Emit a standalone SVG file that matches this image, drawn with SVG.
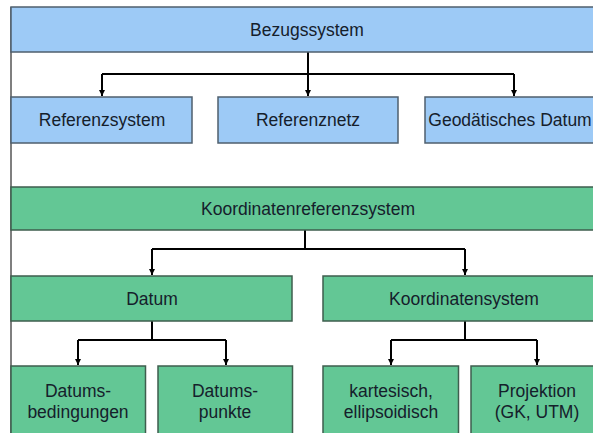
<svg xmlns="http://www.w3.org/2000/svg" width="593" height="433" viewBox="0 0 593 433">
<defs>
<style>
.blue{fill:#9dcaf6;stroke:#4f5f6e;stroke-width:1.5}
.green{fill:#63c795;stroke:#3e5e4e;stroke-width:1.5}
.t{font-family:"Liberation Sans",Arial,sans-serif;font-size:17.5px;text-anchor:middle;fill:#15202b}
.c{fill:none;stroke:#000;stroke-width:2}
</style>
<marker id="ah" viewBox="0 0 10 10" refX="10" refY="5" markerWidth="3.2" markerHeight="3.2" orient="auto">
<path d="M0,0 L10,5 L0,10 z" fill="#000"/>
</marker>
</defs>
<rect width="593" height="433" fill="#fff"/>
<g id="frame"><line x1="11" y1="7" x2="11" y2="433" stroke="#555" stroke-width="1.5"/></g>
<g id="connectors">
<path class="c" d="M308,52 V74"/>
<path class="c" d="M102,74 H514"/>
<path class="c" d="M102,74 V96" marker-end="url(#ah)"/>
<path class="c" d="M308,74 V96" marker-end="url(#ah)"/>
<path class="c" d="M514,74 V96" marker-end="url(#ah)"/>
<path class="c" d="M305,230 V249"/>
<path class="c" d="M152,249 H465"/>
<path class="c" d="M152,249 V275" marker-end="url(#ah)"/>
<path class="c" d="M465,249 V275" marker-end="url(#ah)"/>
<path class="c" d="M152,321 V340"/>
<path class="c" d="M78,340 H226"/>
<path class="c" d="M78,340 V365" marker-end="url(#ah)"/>
<path class="c" d="M226,340 V365" marker-end="url(#ah)"/>
<path class="c" d="M465,321 V340"/>
<path class="c" d="M391,340 H537"/>
<path class="c" d="M391,340 V365" marker-end="url(#ah)"/>
<path class="c" d="M537,340 V365" marker-end="url(#ah)"/>
</g>
<g id="bezugssystem"><rect class="blue" x="11" y="7" width="600" height="45"/><text class="t" x="307" y="36">Bezugssystem</text></g>
<g id="referenzsystem"><rect class="blue" x="11" y="97" width="181" height="46"/><text class="t" x="102" y="126">Referenzsystem</text></g>
<g id="referenznetz"><rect class="blue" x="218" y="97" width="180" height="46"/><text class="t" x="308" y="126">Referenznetz</text></g>
<g id="geodaetisches-datum"><rect class="blue" x="425" y="97" width="180" height="46"/><text class="t" x="510" y="126">Geodätisches Datum</text></g>
<g id="koordinatenreferenzsystem"><rect class="green" x="11" y="187" width="600" height="43"/><text class="t" x="308" y="215">Koordinatenreferenzsystem</text></g>
<g id="datum"><rect class="green" x="11" y="276" width="281" height="45"/><text class="t" x="152" y="304.5">Datum</text></g>
<g id="koordinatensystem"><rect class="green" x="323" y="276" width="290" height="45"/><text class="t" x="464" y="304.5">Koordinatensystem</text></g>
<g id="datumsbedingungen"><rect class="green" x="11" y="366" width="134.5" height="80"/><text class="t" x="78" y="396.5">Datums-</text><text class="t" x="78" y="418">bedingungen</text></g>
<g id="datumspunkte"><rect class="green" x="158" y="366" width="134.5" height="80"/><text class="t" x="225" y="396.5">Datums-</text><text class="t" x="225" y="418">punkte</text></g>
<g id="kartesisch"><rect class="green" x="323" y="366" width="135.5" height="80"/><text class="t" x="391" y="396.5">kartesisch,</text><text class="t" x="391" y="418">ellipsoidisch</text></g>
<g id="projektion"><rect class="green" x="471" y="366" width="135" height="80"/><text class="t" x="537" y="396.5">Projektion</text><text class="t" x="537" y="418">(GK, UTM)</text></g>
</svg>
